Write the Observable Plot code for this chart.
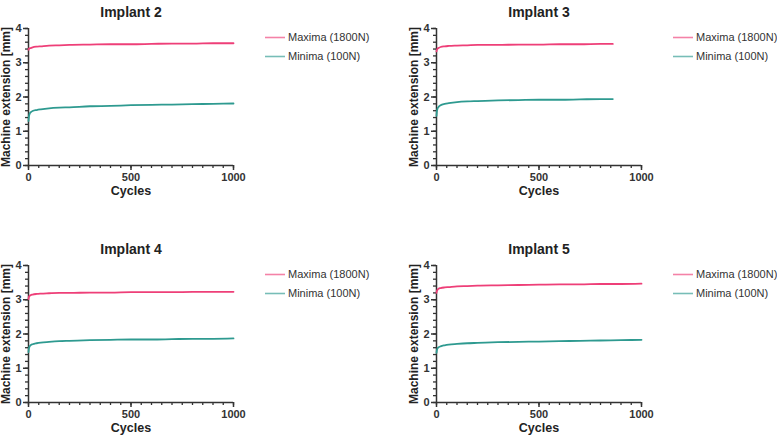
<!DOCTYPE html>
<html>
<head>
<meta charset="utf-8">
<script src="https://cdn.jsdelivr.net/npm/d3@7"></script>
<script src="https://cdn.jsdelivr.net/npm/@observablehq/plot@0.6"></script>
<style>
  html, body { margin: 0; padding: 0; background: #fff; }
  #root { position: relative; width: 777px; height: 439px; overflow: hidden; font-family: "Liberation Sans", Arial, sans-serif; }
  .panel { position: absolute; }
  .legend { position: absolute; font-size: 11px; color: #333; line-height: 1; }
  .legend .item { position: absolute; white-space: nowrap; }
  .legend svg { position: absolute; left: 0; top: -1px; }
  .legend span { position: absolute; left: 23px; top: -5px; }
</style>
</head>
<body>
<div id="root"></div>
<script>
// ---- data ----
const seriesNames = ["Maxima (1800N)", "Minima (100N)"];
const seriesColors = ["#ee3f78", "#2e9a90"];
const panelTitles = ["Implant 2", "Implant 3", "Implant 4", "Implant 5"];
const xTicks = [0, 500, 1000];
const yTicks = [0, 1, 2, 3, 4];

const cyclesFull = [0, 2, 5, 10, 20, 40, 60, 100, 150, 200, 300, 400, 500, 600, 700, 800, 900, 1000];
const cyclesImplant3 = [0, 2, 5, 10, 20, 40, 60, 100, 150, 200, 300, 400, 500, 600, 700, 800, 860];

const implant2Max = [3.38, 3.41, 3.42, 3.43, 3.45, 3.47, 3.48, 3.50, 3.51, 3.52, 3.53, 3.54, 3.54, 3.55, 3.56, 3.56, 3.57, 3.57];
const implant2Min = [1.30, 1.42, 1.50, 1.55, 1.59, 1.62, 1.64, 1.67, 1.69, 1.70, 1.73, 1.74, 1.76, 1.77, 1.78, 1.79, 1.80, 1.81];

const implant3Max = [3.33, 3.38, 3.41, 3.43, 3.46, 3.48, 3.49, 3.50, 3.51, 3.52, 3.52, 3.53, 3.53, 3.54, 3.54, 3.55, 3.55];
const implant3Min = [1.45, 1.58, 1.66, 1.71, 1.76, 1.80, 1.82, 1.85, 1.87, 1.88, 1.90, 1.91, 1.92, 1.92, 1.93, 1.94, 1.94];

const implant4Max = [3.02, 3.08, 3.11, 3.13, 3.15, 3.17, 3.18, 3.19, 3.20, 3.20, 3.21, 3.21, 3.22, 3.22, 3.22, 3.23, 3.23, 3.23];
const implant4Min = [1.47, 1.58, 1.63, 1.67, 1.70, 1.73, 1.75, 1.77, 1.79, 1.80, 1.82, 1.83, 1.84, 1.84, 1.85, 1.86, 1.86, 1.87];

const implant5Max = [3.20, 3.26, 3.29, 3.32, 3.34, 3.36, 3.37, 3.39, 3.40, 3.41, 3.42, 3.43, 3.44, 3.45, 3.45, 3.46, 3.46, 3.47];
const implant5Min = [1.45, 1.53, 1.58, 1.61, 1.64, 1.67, 1.69, 1.71, 1.73, 1.74, 1.76, 1.77, 1.78, 1.79, 1.80, 1.81, 1.82, 1.83];

// ---- layout ----
const panels = [
  {title: panelTitles[0], cycles: cyclesFull, max: implant2Max, min: implant2Min, left: 0, top: 0},
  {title: panelTitles[1], cycles: cyclesImplant3, max: implant3Max, min: implant3Min, left: 408, top: 0},
  {title: panelTitles[2], cycles: cyclesFull, max: implant4Max, min: implant4Min, left: 0, top: 237},
  {title: panelTitles[3], cycles: cyclesFull, max: implant5Max, min: implant5Min, left: 408, top: 237}
];

const root = document.getElementById("root");
const axisColor = "#333";
const font = "'Liberation Sans', Arial, sans-serif";
const intFmt = d3.format("d");

for (const p of panels) {
  const rows = [];
  p.cycles.forEach((c, i) => {
    rows.push({cycle: c, value: p.max[i], series: seriesNames[0]});
  });
  p.cycles.forEach((c, i) => {
    rows.push({cycle: c, value: p.min[i], series: seriesNames[1]});
  });

  const chart = Plot.plot({
    width: 369,
    height: 202,
    marginLeft: 28,
    marginRight: 136,
    marginTop: 28,
    marginBottom: 37,
    style: {fontFamily: font, fontSize: "11px", color: axisColor, background: "transparent", overflow: "visible"},
    x: {domain: [0, 1000], label: null},
    y: {domain: [0, 4], label: null},
    color: {domain: seriesNames, range: seriesColors},
    marks: [
      // minor ticks
      Plot.axisX({ticks: d3.range(0, 1001, 50), tickSize: 3, text: null, stroke: axisColor, strokeWidth: 1.3, label: null}),
      Plot.axisY({ticks: d3.range(0, 4.001, 0.2), tickSize: 3, text: null, stroke: axisColor, strokeWidth: 1.3, label: null}),
      // major ticks + labels
      Plot.axisX({ticks: xTicks, tickSize: 5, tickPadding: 3, tickFormat: intFmt, stroke: axisColor, strokeWidth: 1.5, fontWeight: "bold", fontSize: 11, fill: axisColor, label: null}),
      Plot.axisY({ticks: yTicks, tickSize: 5, tickPadding: 2, tickFormat: intFmt, stroke: axisColor, strokeWidth: 1.5, fontWeight: "bold", fontSize: 11, fill: axisColor, label: null}),
      // axis lines
      Plot.ruleY([0], {stroke: axisColor, strokeWidth: 1.5}),
      Plot.ruleX([0], {stroke: axisColor, strokeWidth: 1.5}),
      // data
      Plot.line(rows, {x: "cycle", y: "value", z: "series", stroke: "series", strokeWidth: 1.8, curve: "monotone-x"}),
      // titles
      Plot.text([p.title], {frameAnchor: "top", dy: -21, fontWeight: "bold", fontSize: 14, fill: "#222"}),
      Plot.text(["Cycles"], {frameAnchor: "bottom", dy: 29, fontWeight: "bold", fontSize: 12.5, fill: "#222"}),
      Plot.text(["Machine extension [mm]"], {frameAnchor: "left", textAnchor: "middle", dx: -22, rotate: -90, fontWeight: "bold", fontSize: 12, fill: "#222"})
    ]
  });

  const wrap = document.createElement("div");
  wrap.className = "panel";
  wrap.style.left = p.left + "px";
  wrap.style.top = p.top + "px";
  wrap.appendChild(chart);
  root.appendChild(wrap);

  // legend
  const legend = document.createElement("div");
  legend.className = "legend";
  legend.style.left = (p.left + 265) + "px";
  legend.style.top = (p.top + 37) + "px";
  seriesNames.forEach((name, i) => {
    const item = document.createElement("div");
    item.className = "item";
    item.style.top = (i * 19) + "px";
    item.innerHTML = `<svg width="20" height="3"><line x1="0" x2="20" y1="1.5" y2="1.5" stroke="${seriesColors[i]}" stroke-opacity="0.65" stroke-width="1.6"/></svg><span>${name}</span>`;
    legend.appendChild(item);
  });
  root.appendChild(legend);
}
</script>
</body>
</html>
